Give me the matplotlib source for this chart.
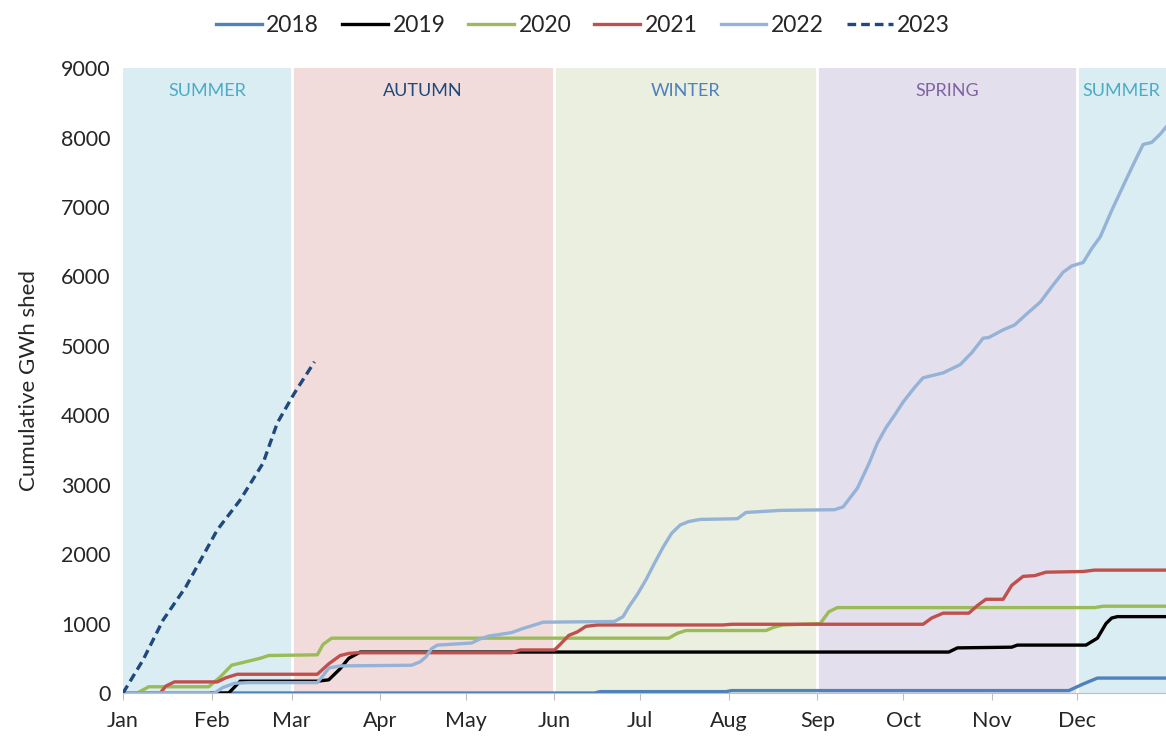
"""Cumulative GWh of load shed per year, with seasons shaded."""

import matplotlib

matplotlib.use("Agg")
import matplotlib.pyplot as plt

plt.rcParams["font.family"] = ["Lato", "DejaVu Sans"]

# month starts as day-of-year
month_labels = ["Jan", "Feb", "Mar", "Apr", "May", "Jun",
                "Jul", "Aug", "Sep", "Oct", "Nov", "Dec"]
month_starts = [0, 31, 59, 90, 120, 151, 181, 212, 243, 273, 304, 334]

season_names = ["SUMMER", "AUTUMN", "WINTER", "SPRING", "SUMMER"]
season_start = [0, 59, 151, 243, 334]
season_end = [59, 151, 243, 334, 365]
season_fill = ["#daedf3", "#f1dcdb", "#ebefdf", "#e4dfec", "#daedf3"]
season_text = ["#4bacc6", "#1f497d", "#4f81bd", "#8064a2", "#4bacc6"]

days_2018 = [0, 165, 167, 211, 213, 331, 336, 341, 365]
gwh_2018 = [0, 0, 20, 20, 35, 35, 130, 215, 215]

days_2019 = [31, 37, 41, 68, 72, 76, 79, 83, 289, 292, 311, 313,
             337, 341, 344, 346, 348, 365]
gwh_2019 = [0, 0, 170, 170, 190, 350, 500, 590, 590, 650, 660, 690,
            690, 790, 1000, 1080, 1100, 1100]

days_2020 = [0, 5, 9, 30, 34, 38, 44, 48, 51, 68, 70, 73, 191, 194, 197,
             225, 228, 231, 244, 247, 250, 340, 343, 365]
gwh_2020 = [0, 0, 90, 90, 230, 400, 460, 500, 540, 550, 700, 790, 790, 860,
            900, 900, 950, 980, 1000, 1170, 1230, 1230, 1250, 1250]

days_2021 = [0, 13, 15, 18, 33, 36, 40, 68, 72, 76, 79, 82, 136, 139, 151,
             153, 156, 159, 162, 166, 210, 213, 280, 283, 287, 296, 299, 302,
             308, 311, 315, 319, 323, 336, 340, 365]
gwh_2021 = [0, 0, 100, 160, 160, 220, 270, 270, 420, 540, 570, 580, 580, 620,
            620, 700, 830, 880, 960, 980, 980, 990, 990, 1080, 1150, 1150,
            1260, 1350, 1350, 1550, 1680, 1690, 1740, 1750, 1770, 1770]

days_2022 = [0, 32, 35, 39, 44, 68, 70, 72, 76, 101, 104, 106, 108, 110, 122,
             125, 128, 136, 140, 144, 147, 172, 175, 177, 180, 183, 186, 189,
             192, 195, 198, 202, 215, 218, 230, 249, 252, 257, 261, 264, 267,
             270, 273, 277, 280, 287, 293, 297, 301, 303, 308, 312, 316, 321,
             325, 329, 332, 336, 339, 342, 346, 351, 354, 357, 360, 363, 365]
gwh_2022 = [0, 0, 80, 140, 150, 150, 250, 360, 390, 400, 450, 520, 640, 690,
            720, 780, 820, 870, 930, 980, 1020, 1030, 1100, 1240, 1420, 1630,
            1870, 2100, 2300, 2420, 2470, 2500, 2510, 2600, 2630, 2640, 2680,
            2950, 3300, 3600, 3820, 4000, 4190, 4400, 4540, 4610, 4730, 4900,
            5110, 5120, 5230, 5300, 5450, 5630, 5850, 6060, 6150, 6200, 6400,
            6570, 6950, 7390, 7650, 7900, 7930, 8050, 8150]

days_2023 = [0, 7, 14, 22, 33, 41, 49, 54, 60, 67]
gwh_2023 = [0, 475, 1050, 1530, 2350, 2780, 3310, 3890, 4320, 4770]

fig = plt.figure(figsize=(11.66, 7.40), dpi=100)
ax = fig.add_axes([0.1055, 0.0635, 0.8945, 0.8445])

for start, end, fill in zip(season_start, season_end, season_fill):
    ax.axvspan(start, end, color=fill, lw=0, zorder=0)
for start in season_start[1:]:
    ax.axvline(start, color="white", lw=2, zorder=1)
for name, start, end, col in zip(season_names, season_start, season_end, season_text):
    ax.text((start + end) / 2, 0.964, name, transform=ax.get_xaxis_transform(),
            ha="center", va="center", fontsize=13, color=col)

lw = 2.4
ax.plot(days_2018, gwh_2018, color="#4f81bd", lw=lw, label="2018", zorder=3)
ax.plot(days_2019, gwh_2019, color="black", lw=lw, label="2019", zorder=3)
ax.plot(days_2020, gwh_2020, color="#9bbb59", lw=lw, label="2020", zorder=3)
ax.plot(days_2021, gwh_2021, color="#c0504d", lw=lw, label="2021", zorder=3)
ax.plot(days_2022, gwh_2022, color="#95b3d7", lw=lw, label="2022", zorder=3)
ax.plot(days_2023, gwh_2023, color="#1f497d", lw=lw, ls=(0, (2.6, 1.5)),
        label="2023", zorder=3)

ax.set_xlim(0, 365)
ax.set_ylim(0, 9000)
ax.set_xticks(month_starts)
ax.set_xticklabels(month_labels)
ax.set_yticks(range(0, 9001, 1000))
ax.tick_params(axis="x", length=5, color="#bfbfbf", pad=8, labelsize=15.5,
               labelcolor="#262626")
ax.tick_params(axis="y", length=0, pad=9, labelsize=15.5, labelcolor="#262626")
for side in ["top", "right", "left"]:
    ax.spines[side].set_visible(False)
ax.spines["bottom"].set_color("#bfbfbf")
ax.set_ylabel("Cumulative GWh shed", fontsize=16, color="#262626", labelpad=16)

fig.legend(loc="upper center", bbox_to_anchor=(0.5, 1.008), ncol=6,
           frameon=False, fontsize=16.5, handlelength=2.0, handletextpad=0.2,
           columnspacing=1.0, labelcolor="#262626")

fig.savefig("out.png", dpi=100)
